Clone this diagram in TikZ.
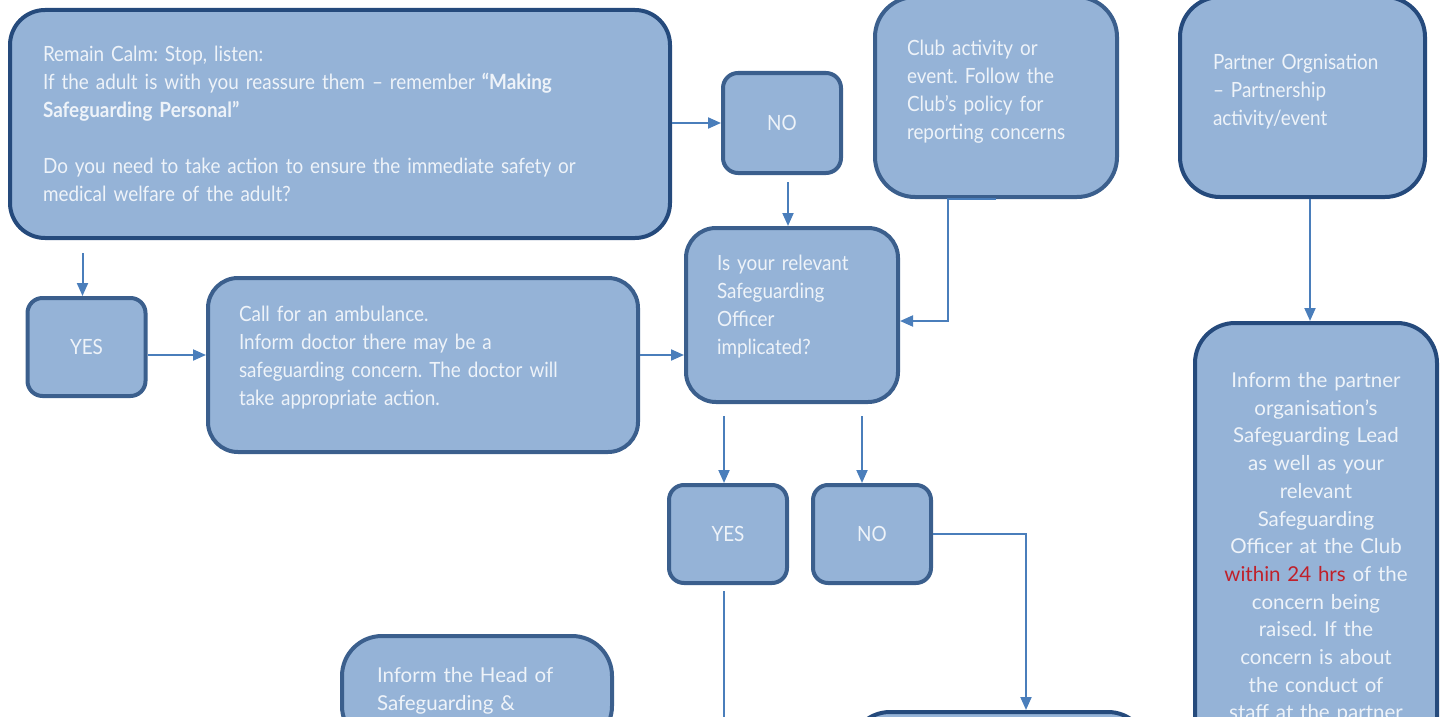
\documentclass[tikz,border=0pt]{standalone}
\usepackage{fontspec}
\setmainfont{Lato}[FakeStretch=0.9]
\newfontfamily\widefont{Lato}
\usetikzlibrary{arrows.meta,calc}
\frenchspacing

\definecolor{boxfill}{HTML}{95B3D7}
\definecolor{darkedge}{HTML}{254A7C}
\definecolor{midedge}{HTML}{3B5F8D}
\definecolor{linkblue}{HTML}{4A7EBB}
\definecolor{txtcol}{HTML}{EEF3F9}
\definecolor{alertred}{HTML}{C0202A}

% extra depth under the last line pushes the text up a little
\newcommand{\gap}[1]{\rule[-#1]{0pt}{#1}}

\tikzset{
  box/.style={draw=midedge, fill=boxfill, line width=4pt, rounded corners=#1,
    text=txtcol, inner sep=0pt, align=left, font=\fontsize{21}{28}\selectfont},
  box/.default=30pt,
  dark/.style={draw=darkedge},
  wide/.style={font=\widefont\fontsize{20.5}{27.7}\selectfont},
  small/.style={box=15pt, minimum width=118pt, minimum height=98pt, align=center},
  arr/.style={draw=linkblue, line width=2pt, -{Triangle[length=13pt,width=11pt]}},
  link/.style={draw=linkblue, line width=2pt}
}

\begin{document}
\begin{tikzpicture}[x=1pt,y=-1pt]
    \useasboundingbox (0,0) rectangle (1445,717);
    \clip (0,0) rectangle (1445,717);

    % Top row
    \node[box=35pt, dark, minimum width=660pt, minimum height=228pt, text width=594pt] (calm) at (340,124)
      {Remain Calm: Stop, listen:\\
       If the adult is with you reassure them – remember \textbf{“Making}\\
       \textbf{Safeguarding Personal”}\\[28pt]
       Do you need to take action to ensure the immediate safety or\\
       medical welfare of the adult?};
    \node[small, minimum height=100pt] (no1) at (782,123) {NO};
    \node[box=40pt, minimum width=242pt, minimum height=200pt, text width=178pt] (club) at (996,97)
      {Club activity or\\ event. Follow the\\ Club’s policy for\\ reporting concerns\gap{14pt}};
    \node[box=40pt, dark, minimum width=245pt, minimum height=200pt, text width=179pt] (partner) at (1302.5,97)
      {Partner Orgnisation\\ – Partnership\\ activity/event\gap{15pt}};

    % Middle
    \node[box, minimum width=212pt, minimum height=174pt, text width=150pt] (isso) at (792,315)
      {Is your relevant\\ Safeguarding\\ Officer\\ implicated?\gap{20pt}};
    \node[small] (yes1) at (86.5,347) {YES};
    \node[box, minimum width=430pt, minimum height=174pt, text width=368pt] (amb) at (423,365)
      {Call for an ambulance.\\ Inform doctor there may be a\\
       safeguarding concern. The doctor will\\ take appropriate action.\gap{19pt}};
    \node[small] (yes2) at (728,534) {YES};
    \node[small] (no2) at (872,534) {NO};
    \node[box=40pt, dark, wide, minimum width=242pt, minimum height=450pt, text width=220pt, align=center] (inform) at (1316,548)
      {Inform the partner\\ organisation’s\\ Safeguarding Lead\\ as well as your\\ relevant\\ Safeguarding\\
       Officer at the Club\\ \textcolor{alertred}{within 24 hrs} of the\\ concern being\\ raised. If the\\
       concern is about\\ the conduct of\\ staff at the partner};

    % Bottom row
    \node[box=40pt, wide, minimum width=270pt, minimum height=110pt, text width=200pt] (head) at (477,691)
      {Inform the Head of\\ Safeguarding \&};
    \node[box=40pt, dark, minimum width=298pt, minimum height=200pt] (next) at (999,812) {};

    % Arrows
    \draw[arr] (calm.east |- no1.west) -- (no1.west);
    \coordinate (n1) at ($(no1.south)+(6,7)$);
    \draw[arr] (n1) -- (n1 |- isso.north);
    \draw[arr] (club.south) -- ++(-48,0) |- ($(isso.east)+(0,6)$);
    \coordinate (p1) at ($(partner.south)+(7.5,0)$);
    \draw[arr] (p1) -- (p1 |- inform.north);

    \coordinate (c1) at ($(yes1.north)+(-4,-43)$);
    \draw[arr] (c1) -- (c1 |- yes1.north);
    \coordinate (y1) at ($(yes1.east)+(0,8)$);
    \draw[arr] (y1) -- (y1 -| amb.west);
    \coordinate (a1) at ($(amb.east)+(0,-10)$);
    \draw[arr] (a1) -- (a1 -| isso.west);

    \coordinate (s1) at ($(yes2.north)+(-4,-67)$);
    \draw[arr] (s1) -- (s1 |- yes2.north);
    \coordinate (s2) at ($(no2.north)+(-10,-67)$);
    \draw[arr] (s2) -- (s2 |- no2.north);
    \draw[arr] (no2.east) -| ($(next.north)+(27,0)$);
    \coordinate (y2) at ($(yes2.south)+(-4,6)$);
    \draw[link] (y2) -- ++(0,150);

\end{tikzpicture}
\end{document}
